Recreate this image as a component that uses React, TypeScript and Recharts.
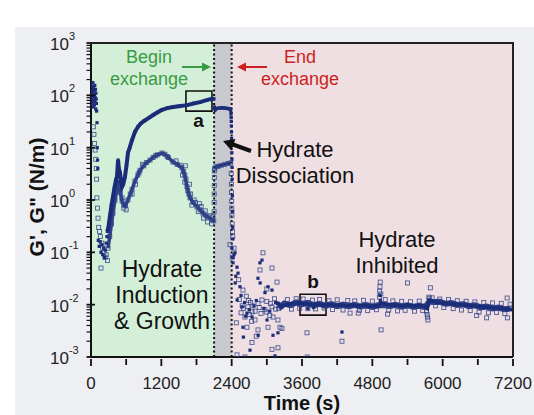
import React from 'react';
import { ComposedChart, Scatter, XAxis, YAxis, ReferenceArea, ReferenceLine } from 'recharts';

type P = [number, number];

// ---------- axis ticks ----------
const xTicks = [0, 600, 1200, 1800, 2400, 3000, 3600, 4200, 4800, 5400, 6000, 6600, 7200];
const xLabelTicks = [0, 1200, 2400, 3600, 4800, 6000, 7200];
const yMajor = [0.001, 0.01, 0.1, 1, 10, 100, 1000];
const yMinorMult = [2, 3, 4, 5, 6, 7, 8, 9];

// ---------- regions (s) ----------
const beginExchange = 2100;
const endExchange = 2400;
const boxA = { t1: 1620, t2: 2064, v1: 50, v2: 121 };
const boxB = { t1: 3566, t2: 4010, v1: 0.0063, v2: 0.0158 };

// ---------- G' (filled squares) ----------
const gPrimeInitial: P[] = [
  [8, 110], [12, 85], [16, 150], [20, 70], [24, 125], [28, 95], [32, 175], [36, 60], [40, 105], [44, 140],
  [48, 80], [52, 120], [56, 65], [60, 100], [64, 155], [68, 75], [72, 90], [76, 130], [80, 55], [84, 110],
  [88, 85], [92, 70], [96, 50], [102, 30], [106, 10], [112, 5.8], [116, 4], [124, 0.17], [140, 0.13],
  [155, 0.16], [170, 0.1], [185, 0.14], [200, 0.09], [215, 0.12], [230, 0.08], [245, 0.11], [260, 0.15], [272, 0.2],
];
const gPrimeCurve: P[] = [
  [280, 0.25], [300, 0.32], [324, 0.5], [350, 0.8], [375, 1.15], [400, 1.7], [425, 2.4], [443, 2.8], [455, 4.5],
  [462, 5.8], [475, 4.0], [495, 3.3], [515, 2.2], [530, 1.8], [550, 2.0], [580, 2.8], [605, 4.5], [631, 8],
  [660, 10], [700, 14], [750, 20], [800, 25], [850, 29], [900, 32], [1000, 38], [1060, 42], [1130, 47],
  [1200, 52], [1300, 57], [1400, 60], [1500, 62], [1640, 65], [1750, 70], [1860, 74], [1960, 80], [2064, 86],
  [2098, 86],
];
const gPrimeGrey: P[] = [
  [2106, 60], [2120, 53], [2140, 56], [2180, 57], [2230, 58], [2280, 57], [2330, 56], [2378, 55],
];
const gPrimeDrop: P[] = [
  [2385, 50], [2388, 44], [2391, 38], [2393, 32], [2395, 26], [2397, 20], [2399, 15], [2401, 11], [2403, 8],
  [2405, 6], [2408, 4.2], [2410, 2.5], [2413, 1.2], [2416, 0.6], [2418, 0.3], [2420, 0.18],
];
const gPrimeAfter: P[] = [
  [2405, 0.12], [2420, 0.08], [2423, 0.063], [2440, 0.09], [2457, 0.098], [2470, 0.035], [2491, 0.052],
  [2508, 0.04], [2460, 0.026], [2542, 0.022], [2494, 0.0123], [2576, 0.0091], [2593, 0.0037], [2600, 0.0024],
  [2713, 0.00135], [2661, 0.0069], [2747, 0.0058], [2883, 0.063], [2917, 0.071], [2849, 0.032], [2886, 0.026],
  [2968, 0.017], [3020, 0.022], [3088, 0.019], [3003, 0.0051], [2852, 0.0026], [3105, 0.0026], [3139, 0.00105],
  [3190, 0.0029], [3193, 0.0107], [3258, 0.0091], [2620, 0.011], [2700, 0.008], [2780, 0.0095], [2820, 0.012],
  [2950, 0.0085], [3050, 0.0075], [2560, 0.015], [2640, 0.006],
];
const gPrimeBand: P[] = [
  [3150, 0.011], [3250, 0.0095], [3350, 0.01], [3450, 0.0105], [3550, 0.0108], [3650, 0.0104], [3750, 0.01],
  [3850, 0.0103], [3950, 0.0098], [4050, 0.0101], [4150, 0.0097], [4250, 0.0099], [4350, 0.0095], [4450, 0.0098],
  [4550, 0.0094], [4650, 0.0097], [4750, 0.0093], [4850, 0.0096], [4920, 0.0094], [4940, 0.0108], [5000, 0.0104],
  [5100, 0.01], [5200, 0.0097], [5300, 0.0095], [5400, 0.0098], [5500, 0.0094], [5600, 0.0096], [5700, 0.0093],
  [5740, 0.0085], [5760, 0.012], [5800, 0.0118], [5900, 0.0112], [6000, 0.0108], [6100, 0.0105], [6200, 0.0102],
  [6300, 0.01], [6400, 0.0097], [6500, 0.0095], [6600, 0.0093], [6700, 0.009], [6800, 0.0089], [6900, 0.0087],
  [7000, 0.0085], [7100, 0.0083], [7200, 0.008],
];
const gPrimeOutliers: P[] = [[4282, 0.003], [4930, 0.015], [4936, 0.012], [3700, 0.0085], [3800, 0.0088]];

// ---------- G'' (open squares) ----------
const gDoubleInitial: P[] = [
  [40, 25], [50, 18], [60, 12], [70, 9], [80, 6], [90, 4], [95, 2.5], [100, 1.1], [110, 0.7], [120, 0.45],
  [130, 0.3], [145, 0.25], [160, 0.2], [170, 0.05], [185, 0.15], [200, 0.12], [220, 0.1], [240, 0.08],
  [260, 0.09], [280, 0.07],
];
const gDoubleCurve: P[] = [
  [290, 0.12], [320, 0.2], [350, 0.35], [375, 0.56], [410, 1.0], [443, 1.55], [460, 2.4], [480, 2.0], [500, 1.4],
  [530, 0.95], [560, 0.8], [590, 0.78], [630, 1.0], [670, 1.3], [700, 1.6], [750, 2.3], [800, 3.0], [836, 3.7],
  [900, 4.5], [950, 5.2], [1007, 5.8], [1060, 6.5], [1130, 7.3], [1211, 7.9], [1260, 7.5], [1320, 6.5],
  [1399, 5.3], [1470, 4.8], [1552, 4.1], [1600, 3.0], [1637, 1.8], [1670, 1.3], [1689, 1.1], [1740, 0.9],
  [1808, 0.74], [1860, 0.65], [1911, 0.56], [1960, 0.5], [2000, 0.47], [2064, 0.42], [2095, 0.4],
];
const gDoubleNoise: P[] = [
  [700, 1.3], [760, 2.0], [820, 3.3], [880, 4.8], [1100, 7.0], [1300, 6.8], [1450, 5.6], [1520, 4.6], [1580, 3.5],
  [1610, 4.5], [1620, 2.5], [1650, 1.5], [1680, 2.0], [1700, 1.3], [1720, 0.8], [1760, 1.0], [1780, 0.9],
  [1830, 0.6], [1850, 0.85], [1880, 0.75], [1920, 0.45], [1950, 0.62], [1990, 0.38], [2030, 0.5], [2060, 0.35],
  [2080, 0.48], [1560, 3.0], [1600, 2.2], [530, 1.1], [560, 0.7], [600, 0.65],
];
const gDoubleJump: P[] = [[2100, 0.6], [2101, 0.9], [2102, 1.3], [2103, 1.9], [2104, 2.7], [2105, 3.6]];
const gDoubleGrey: P[] = [[2110, 4.0], [2130, 4.3], [2170, 4.4], [2220, 4.6], [2280, 4.8], [2340, 5.0], [2385, 5.1]];
const gDoubleDrop: P[] = [[2392, 3.2], [2395, 2.0], [2398, 1.4], [2400, 0.95], [2402, 0.7], [2405, 0.5], [2410, 0.35], [2415, 0.25], [2418, 0.2]];
const gDoubleAfter: P[] = [
  [2371, 0.14], [2410, 0.081], [2440, 0.12], [2934, 0.098], [2883, 0.046], [3088, 0.05], [3173, 0.027],
  [2593, 0.019], [2678, 0.0091], [2747, 0.0073], [2627, 0.0058], [2798, 0.0051], [2661, 0.0037], [2849, 0.0033],
  [3020, 0.0037], [3224, 0.0037], [2917, 0.0123], [2968, 0.008], [3088, 0.0091], [3105, 0.0058], [3190, 0.0051],
  [3258, 0.0035], [2747, 0.0019], [3088, 0.0014], [3190, 0.0015], [2491, 0.0011], [2627, 0.001], [2560, 0.007],
  [2600, 0.0085], [2700, 0.0065], [2720, 0.011], [2760, 0.0095], [2800, 0.0075], [2850, 0.0105], [2900, 0.0068],
  [3000, 0.0115], [3050, 0.0062], [3150, 0.0082], [3230, 0.0098], [2520, 0.03], [2480, 0.0045], [2530, 0.0125],
  [2650, 0.0145], [2820, 0.0025], [3000, 0.02], [3130, 0.013], [2580, 0.0095], [2690, 0.012], [2740, 0.0048],
  [2870, 0.0088], [2990, 0.0072], [3060, 0.0105],
];
const gDoubleBand: P[] = [
  [3200, 0.0085], [3300, 0.0105], [3400, 0.0098], [3500, 0.011], [3600, 0.0102], [3700, 0.0108], [3800, 0.0097],
  [3900, 0.0104], [4000, 0.0095], [4100, 0.0102], [4200, 0.0094], [4300, 0.01], [4400, 0.0093], [4500, 0.0099],
  [4600, 0.0092], [4700, 0.0098], [4800, 0.0091], [4900, 0.0097], [5000, 0.0098], [5100, 0.0094], [5200, 0.0099],
  [5300, 0.0092], [5400, 0.0097], [5500, 0.0091], [5600, 0.0095], [5700, 0.009], [5780, 0.0116], [5850, 0.0112],
  [5950, 0.0114], [6050, 0.0104], [6150, 0.0107], [6250, 0.0099], [6350, 0.0102], [6450, 0.0094], [6550, 0.0097],
  [6650, 0.0089], [6750, 0.0092], [6850, 0.0085], [6950, 0.0088], [7050, 0.0082], [7150, 0.0084],
];
const gDoubleBandScatter: P[] = [
  [3350, 0.0125], [3420, 0.0082], [3500, 0.013], [3560, 0.0085], [3620, 0.0128], [3700, 0.0084], [3780, 0.0122],
  [3830, 0.0083], [3900, 0.0126], [3980, 0.0086], [4060, 0.0119], [4120, 0.0081], [4200, 0.0124], [4300, 0.0079],
  [4380, 0.012], [4420, 0.0069], [4500, 0.0118], [4580, 0.0078], [4650, 0.0121], [4720, 0.0077], [4800, 0.0117],
  [4870, 0.008], [5020, 0.0125], [5080, 0.0079], [5150, 0.0118], [5230, 0.0076], [5300, 0.0116], [5360, 0.0078],
  [5450, 0.0114], [5520, 0.0075], [5600, 0.0117], [5660, 0.0077], [5820, 0.0135], [5880, 0.0095], [5950, 0.0128],
  [6020, 0.0088], [6100, 0.0125], [6180, 0.0084], [6250, 0.0119], [6320, 0.0079], [6400, 0.0116], [6470, 0.0077],
  [6550, 0.0113], [6620, 0.0072], [6700, 0.011], [6780, 0.007], [6850, 0.0108], [6920, 0.0071], [7000, 0.0106],
  [7060, 0.0068], [7150, 0.0102], [3685, 0.0029], [3690, 0.001], [4282, 0.002], [5400, 0.026], [5790, 0.021],
  [7100, 0.0134], [7105, 0.0056], [6750, 0.0056], [4920, 0.014], [4925, 0.018], [4930, 0.022], [4935, 0.027],
  [4945, 0.016], [4950, 0.0033], [5725, 0.0075], [5735, 0.0065], [5742, 0.0058], [5748, 0.0051], [5765, 0.0139],
  [5772, 0.013], [4560, 0.0069], [5060, 0.0066], [6580, 0.0062],
];

// ---------- styling ----------
const NAVY = '#1b2c78';
const OPEN = '#2f4288';
const FONT = '"Liberation Sans", Arial, Helvetica, sans-serif';

const pts = (a: P[]) => a.map(([t, v]) => ({ t, v }));
const yTicks: number[] = (() => {
  const out: number[] = [];
  yMajor.forEach((m, i) => {
    out.push(m);
    if (i < yMajor.length - 1) yMinorMult.forEach((k) => out.push(+(k * m).toPrecision(6)));
  });
  return out;
})();
const isMajor = (v: number) => yMajor.some((m) => Math.abs(m - v) / m < 1e-6);

const Filled = (p: any) => <rect x={p.cx - 1.6} y={p.cy - 1.6} width={3.2} height={3.2} fill={NAVY} />;
const Open = (p: any) => (
  <rect x={p.cx - 2} y={p.cy - 2} width={4} height={4} fill="none" stroke={OPEN} strokeWidth={0.9} opacity={0.85} />
);

const YTick = (props: any) => {
  const { x, y, payload } = props;
  const v = payload.value;
  const major = isMajor(v);
  const exp = Math.round(Math.log10(v));
  return (
    <g>
      <line x1={x - 2.5} x2={x + (major ? 6 : 2.5)} y1={y} y2={y} stroke="#111" strokeWidth={major ? 1.8 : 1.2} />
      {major && (
        <text x={x - 39} y={y + 7} fontSize={17} fill="#222" fontFamily={FONT}>
          10
          <tspan dy={-10} fontSize={11}>
            {exp}
          </tspan>
        </text>
      )}
    </g>
  );
};

const XTick = (props: any) => {
  const { x, y, payload } = props;
  const v = payload.value;
  const major = xLabelTicks.includes(v);
  return (
    <g>
      <line x1={x} x2={x} y1={y} y2={y + (major ? 7 : 6)} stroke="#111" strokeWidth={1.8} />
      {major && (
        <text x={x} y={y + 30} fontSize={17} fill="#222" textAnchor="middle" fontFamily={FONT}>
          {v}
        </text>
      )}
    </g>
  );
};

export default function App() {
  return (
    <div style={{ position: 'absolute', left: 0, top: 0, width: 534, height: 415, background: '#fff', fontFamily: FONT }}>
      <div style={{ position: 'absolute', left: 15, top: 27, width: 519, height: 388, background: '#eeeff2' }} />
      <div style={{ position: 'absolute', left: 0, top: 0 }}>
        <ComposedChart width={534} height={415} margin={{ top: 43, right: 21, bottom: 0, left: 0 }}>
          <XAxis
            dataKey="t"
            type="number"
            domain={[0, 7200]}
            ticks={xTicks}
            interval={0}
            tick={<XTick />}
            tickLine={false}
            tickSize={0}
            height={58}
            axisLine={{ stroke: '#111', strokeWidth: 2 }}
            allowDataOverflow
          />
          <YAxis
            dataKey="v"
            type="number"
            scale="log"
            domain={[0.001, 1000]}
            ticks={yTicks}
            interval={0}
            tick={<YTick />}
            tickLine={false}
            tickSize={0}
            width={91}
            axisLine={{ stroke: '#111', strokeWidth: 2 }}
            allowDataOverflow
          />
          <ReferenceArea x1={0} x2={beginExchange} fill="#d3efd7" fillOpacity={1} stroke="none" />
          <ReferenceArea x1={beginExchange} x2={endExchange} fill="#c8c9ce" fillOpacity={1} stroke="none" />
          <ReferenceArea x1={endExchange} x2={7200} fill="#efdfe2" fillOpacity={1} stroke="none" />
          <ReferenceLine x={beginExchange} stroke="#111" strokeWidth={2} strokeDasharray="2 2.5" />
          <ReferenceLine x={endExchange} stroke="#111" strokeWidth={2} strokeDasharray="2 2.5" />

          <Scatter data={pts(gDoubleInitial)} shape={Open} isAnimationActive={false} />
          <Scatter data={pts(gDoubleCurve)} shape={Open} line={{ stroke: OPEN, strokeWidth: 3.5 }} lineType="joint" isAnimationActive={false} />
          <Scatter data={pts(gDoubleNoise)} shape={Open} isAnimationActive={false} />
          <Scatter data={pts(gDoubleJump)} shape={Open} isAnimationActive={false} />
          <Scatter data={pts(gDoubleGrey)} shape={Open} line={{ stroke: NAVY, strokeWidth: 3 }} lineType="joint" isAnimationActive={false} />
          <Scatter data={pts(gDoubleDrop)} shape={Open} isAnimationActive={false} />
          <Scatter data={pts(gDoubleAfter)} shape={Open} isAnimationActive={false} />
          <Scatter data={pts(gDoubleBand)} shape={Open} line={{ stroke: OPEN, strokeWidth: 6 }} lineType="joint" isAnimationActive={false} />
          <Scatter data={pts(gDoubleBandScatter)} shape={Open} isAnimationActive={false} />

          <Scatter data={pts(gPrimeInitial)} shape={Filled} isAnimationActive={false} />
          <Scatter data={pts(gPrimeCurve)} shape={Filled} line={{ stroke: NAVY, strokeWidth: 4 }} lineType="joint" isAnimationActive={false} />
          <Scatter data={pts(gPrimeGrey)} shape={Filled} line={{ stroke: NAVY, strokeWidth: 3.5 }} lineType="joint" isAnimationActive={false} />
          <Scatter data={pts(gPrimeDrop)} shape={Filled} isAnimationActive={false} />
          <Scatter data={pts(gPrimeAfter)} shape={Filled} isAnimationActive={false} />
          <Scatter data={pts(gPrimeBand)} shape={Filled} line={{ stroke: NAVY, strokeWidth: 3.5 }} lineType="joint" isAnimationActive={false} />
          <Scatter data={pts(gPrimeOutliers)} shape={Filled} isAnimationActive={false} />

          <ReferenceArea x1={boxA.t1} x2={boxA.t2} y1={boxA.v1} y2={boxA.v2} fill="none" stroke="#111" strokeWidth={1.6} />
          <ReferenceArea x1={boxB.t1} x2={boxB.t2} y1={boxB.v1} y2={boxB.v2} fill="none" stroke="#111" strokeWidth={1.6} />
        </ComposedChart>
      </div>
      <svg width={534} height={415} style={{ position: 'absolute', left: 0, top: 0, pointerEvents: 'none' }}>
        <line x1={90} y1={43} x2={514} y2={43} stroke="#222" strokeWidth={2} />
        <line x1={513} y1={43} x2={513} y2={357} stroke="#222" strokeWidth={2} />

        <g fontFamily={FONT}>
          <text x={149} y={63} fontSize={18} fill="#3a9b45" textAnchor="middle">Begin</text>
          <text x={149} y={85} fontSize={18} fill="#3a9b45" textAnchor="middle">exchange</text>
          <line x1={182} y1={67} x2={204} y2={67} stroke="#3a9b45" strokeWidth={2} />
          <polygon points="211,67 202,62.5 202,71.5" fill="#3a9b45" />

          <text x={300} y={63} fontSize={18} fill="#cc1f1f" textAnchor="middle">End</text>
          <text x={300} y={85} fontSize={18} fill="#cc1f1f" textAnchor="middle">exchange</text>
          <line x1={244} y1={67} x2={267} y2={67} stroke="#cc1f1f" strokeWidth={2} />
          <polygon points="237,67 246,62.5 246,71.5" fill="#cc1f1f" />

          <text x={198.5} y={127} fontSize={19} fontWeight="bold" fill="#111" textAnchor="middle">a</text>
          <text x={313} y={288} fontSize={19} fontWeight="bold" fill="#111" textAnchor="middle">b</text>

          <line x1={251} y1={151} x2={233} y2={144.5} stroke="#111" strokeWidth={4} />
          <polygon points="223,141 235.4,139 231.4,150.4" fill="#111" />

          <text x={295} y={157} fontSize={22} fill="#111" textAnchor="middle">Hydrate</text>
          <text x={295} y={183} fontSize={22} fill="#111" textAnchor="middle">Dissociation</text>

          <text x={162} y={277} fontSize={23} fill="#111" textAnchor="middle">Hydrate</text>
          <text x={162} y={303} fontSize={23} fill="#111" textAnchor="middle">Induction</text>
          <text x={162} y={329} fontSize={23} fill="#111" textAnchor="middle">&amp; Growth</text>

          <text x={397} y={247} fontSize={22} fill="#111" textAnchor="middle">Hydrate</text>
          <text x={397} y={273} fontSize={22} fill="#111" textAnchor="middle">Inhibited</text>

          <text x={302} y={410} fontSize={20} fontWeight="bold" fill="#111" textAnchor="middle">Time (s)</text>
          <text
            x={36}
            y={197}
            fontSize={21}
            fontWeight="bold"
            fill="#111"
            textAnchor="middle"
            dominantBaseline="central"
            transform="rotate(-90 36 197)"
          >
            G', G" (N/m)
          </text>
        </g>
      </svg>
    </div>
  );
}
